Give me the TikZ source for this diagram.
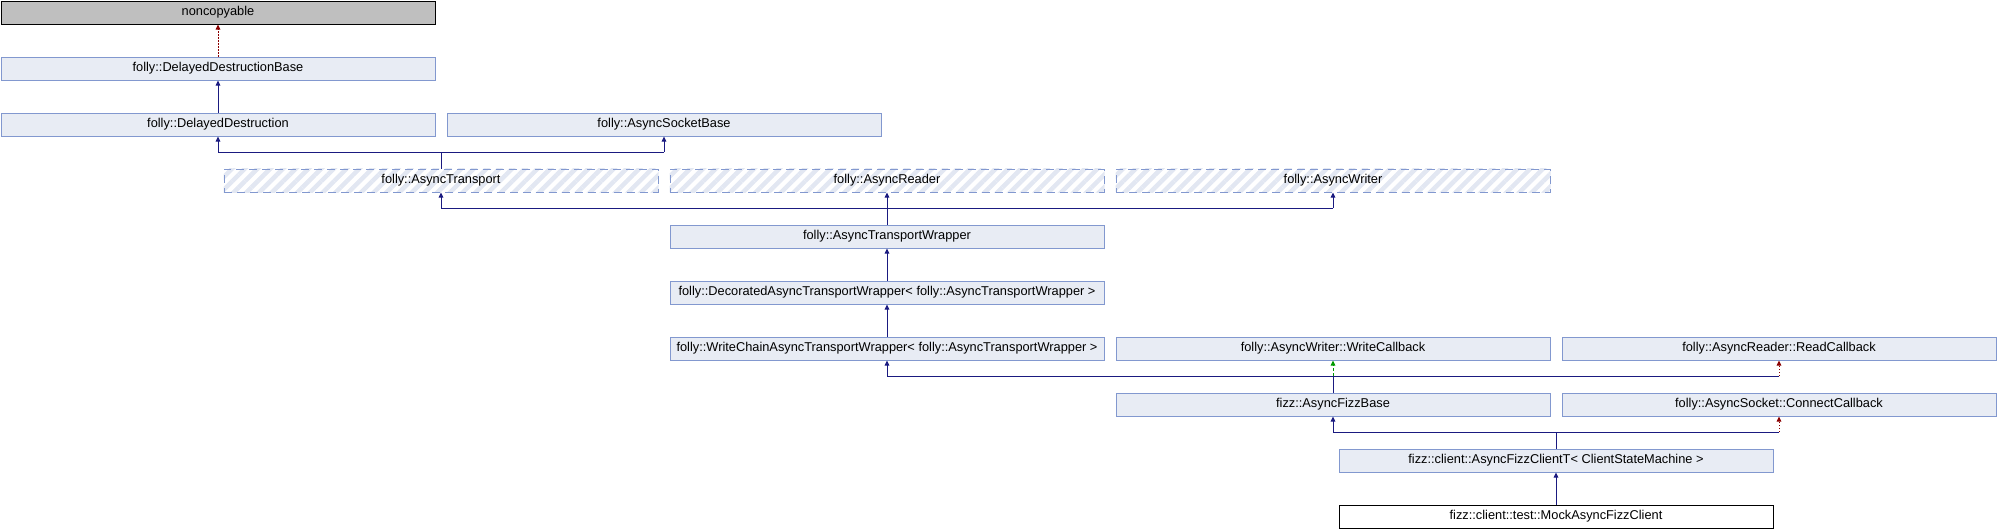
\documentclass[tikz,border=0pt]{standalone}
\usepackage{fontspec}
\setmainfont{Liberation Sans}
\usetikzlibrary{arrows.meta,patterns.meta,backgrounds}
\definecolor{boxfill}{HTML}{E8ECF4}
\definecolor{boxdraw}{HTML}{8298CF}
\definecolor{hatchcol}{HTML}{E2E7F2}
\definecolor{pubcol}{HTML}{1A1A80}
\definecolor{privcol}{HTML}{8B0000}
\definecolor{protcol}{HTML}{009900}
\definecolor{grayfill}{HTML}{BFBFBF}
\begin{document}
\begin{tikzpicture}[x=1pt,y=-1pt,
  cls/.style={draw=boxdraw, fill=boxfill, line width=1pt, minimum width=434pt,
    minimum height=23pt, inner sep=0pt, anchor=north west,
    font=\fontsize{12.8}{14}\selectfont},
  extcls/.style={cls, fill=none, dash pattern=on 8pt off 5pt},
  hatchfill/.style={pattern={Lines[angle=45,distance=9pt,line width=4.5pt]}, pattern color=hatchcol},
  graycls/.style={cls, draw=black, fill=grayfill},
  whitecls/.style={cls, draw=black, fill=white},
  publine/.style={draw=pubcol, line width=1pt},
  pubarr/.style={publine, -{Triangle[length=5pt,width=4.5pt]}},
  privarr/.style={draw=privcol, line width=1pt, dash pattern=on 1.5pt off 1.5pt,
    -{Triangle[length=5pt,width=4.5pt]}},
  protarr/.style={draw=protcol, line width=1pt, dash pattern=on 3pt off 2pt,
    -{Triangle[length=5pt,width=4.5pt]}}
]
\useasboundingbox (0,0) rectangle (1997,528);
% row r top = 0.5 + 56 r ; column k left = 0.5 + 223 k
\node[graycls]  (nc)   at (0.5,0.5)      {noncopyable};
\node[cls]      (ddb)  at (0.5,56.5)     {folly::DelayedDestructionBase};
\node[cls]      (dd)   at (0.5,112.5)    {folly::DelayedDestruction};
\node[cls]      (asb)  at (446.5,112.5)  {folly::AsyncSocketBase};
\node[extcls]   (at)   at (223.5,168.5)  {folly::AsyncTransport};
\node[extcls]   (ar)   at (669.5,168.5)  {folly::AsyncReader};
\node[extcls]   (aw)   at (1115.5,168.5) {folly::AsyncWriter};
\node[cls]      (atw)  at (669.5,224.5)  {folly::AsyncTransportWrapper};
\node[cls]      (dec)  at (669.5,280.5)  {folly::DecoratedAsyncTransportWrapper< folly::AsyncTransportWrapper >};
\node[cls]      (wc)   at (669.5,336.5)  {folly::WriteChainAsyncTransportWrapper< folly::AsyncTransportWrapper >};
\node[cls]      (wcb)  at (1115.5,336.5) {folly::AsyncWriter::WriteCallback};
\node[cls]      (rcb)  at (1561.5,336.5) {folly::AsyncReader::ReadCallback};
\node[cls]      (afb)  at (1115.5,392.5) {fizz::AsyncFizzBase};
\node[cls]      (ccb)  at (1561.5,392.5) {folly::AsyncSocket::ConnectCallback};
\node[cls]      (afc)  at (1338.5,448.5) {fizz::client::AsyncFizzClientT< ClientStateMachine >};
\node[whitecls] (mock) at (1338.5,504.5) {fizz::client::test::MockAsyncFizzClient};

\begin{scope}[on background layer]
  \foreach \n in {at,ar,aw}
    \path[hatchfill] (\n.north west) rectangle (\n.south east);
\end{scope}

\coordinate (j1) at (0,152);
\coordinate (j2) at (0,208);
\coordinate (j3) at (0,376);
\coordinate (j4) at (0,432);

\draw[privarr] (ddb.north) -- (nc.south);
\draw[pubarr] (dd.north) -- (ddb.south);

\draw[publine] (at.north) -- (at.north |- j1);
\draw[publine] (dd.south |- j1) -- (asb.south |- j1);
\draw[pubarr] (dd.south |- j1) -- (dd.south);
\draw[pubarr] (asb.south |- j1) -- (asb.south);

\draw[publine] (atw.north) -- (atw.north |- j2);
\draw[publine] (at.south |- j2) -- (aw.south |- j2);
\draw[pubarr] (at.south |- j2) -- (at.south);
\draw[pubarr] (ar.south |- j2) -- (ar.south);
\draw[pubarr] (aw.south |- j2) -- (aw.south);

\draw[pubarr] (dec.north) -- (atw.south);
\draw[pubarr] (wc.north) -- (dec.south);

\draw[publine] (afb.north) -- (afb.north |- j3);
\draw[publine] (wc.south |- j3) -- (rcb.south |- j3);
\draw[pubarr] (wc.south |- j3) -- (wc.south);
\draw[protarr] (wcb.south |- j3) -- (wcb.south);
\draw[privarr] (rcb.south |- j3) -- (rcb.south);

\draw[publine] (afc.north) -- (afc.north |- j4);
\draw[publine] (afb.south |- j4) -- (ccb.south |- j4);
\draw[pubarr] (afb.south |- j4) -- (afb.south);
\draw[privarr] (ccb.south |- j4) -- (ccb.south);

\draw[pubarr] (mock.north) -- (afc.south);
\end{tikzpicture}
\end{document}
